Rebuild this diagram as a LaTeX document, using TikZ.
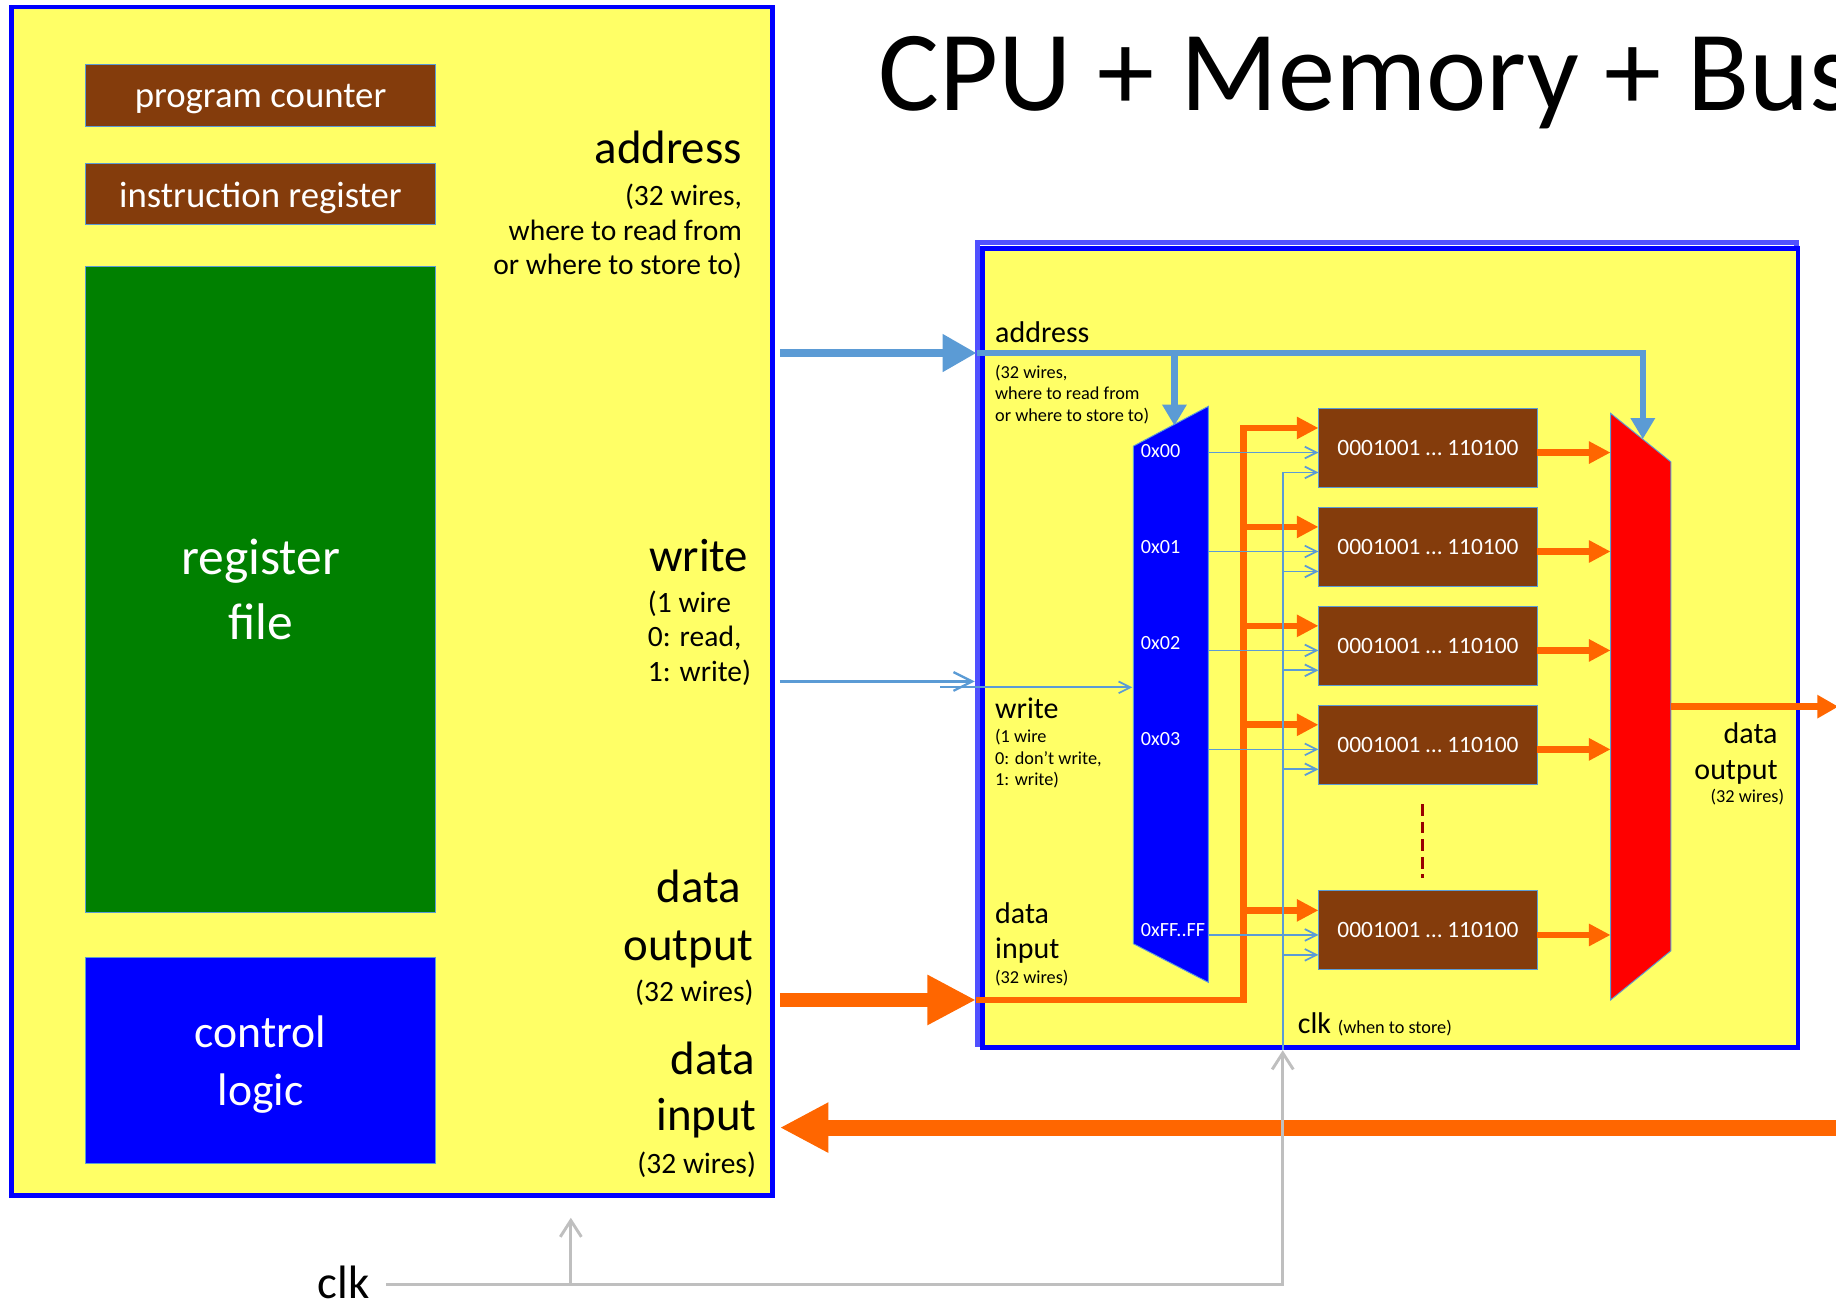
\documentclass[tikz,border=0pt]{standalone}
\usepackage{fontspec}
\setmainfont{Carlito}
\usepackage{tikz}
\usetikzlibrary{positioning}
\usetikzlibrary{arrows.meta}

\definecolor{boardyellow}{RGB}{255,255,102}
\definecolor{regbrown}{RGB}{132,60,12}
\definecolor{regfilegreen}{RGB}{0,128,0}
\definecolor{busorange}{RGB}{255,102,0}
\definecolor{wireblue}{RGB}{91,155,213}
\definecolor{clkgray}{RGB}{191,191,191}
\definecolor{dotred}{RGB}{153,0,0}
\definecolor{framelight}{RGB}{80,80,255}

\newcommand{\txtsize}[2]{\fontsize{#1}{#2}\selectfont}

\tikzset{
  regbox/.style={draw=wireblue, line width=0.4pt, inner sep=0pt, outer sep=0pt, text=white, align=center, minimum width=149.5pt},
  cellbox/.style={draw=wireblue, line width=0.4pt, fill=regbrown, inner sep=0pt, outer sep=0pt, text=white, minimum width=93.5pt, minimum height=33.75pt, font=\txtsize{10}{12}},
  bigport/.style={inner sep=0pt, font=\txtsize{20}{24}},
  smallport/.style={inner sep=0pt, font=\txtsize{12.6}{14.75}},
  memport/.style={inner sep=0pt, font=\txtsize{12.8}{15.4}},
  memsmall/.style={inner sep=0pt, font=\txtsize{7.8}{9.2}},
  declabel/.style={inner sep=0pt, text=white, font=\txtsize{8.6}{10}},
  addrarrow/.style={draw=wireblue, line width=3.75pt, -{Triangle[length=14.5pt,width=15.25pt]}},
  addrtip/.style={draw=wireblue, line width=2.75pt, -{Triangle[length=9pt,width=10pt]}},
  writearrow/.style={draw=wireblue, line width=1pt, -{Straight Barb[length=8pt,width=8pt]}},
  ctrlwire/.style={draw=wireblue, line width=0.75pt, -{Straight Barb[length=5pt,width=5pt]}},
  bigdata/.style={draw=busorange, -{Triangle[length=20.75pt,width=20pt]}},
  datatip/.style={draw=busorange, line width=2.85pt, -{Triangle[length=9.25pt,width=9pt]}},
  clkwire/.style={draw=clkgray, line width=1.25pt},
  clktip/.style={clkwire, -{Straight Barb[length=7pt,width=9pt]}}
}

\begin{document}
\begin{tikzpicture}[x=0.5pt, y=-0.5pt]
    \useasboundingbox (0,0) rectangle (1568,1111);

    % CPU
    \node (cpu) at (335,513.5) [draw=blue, line width=2pt, fill=boardyellow, inner sep=0pt, outer sep=0pt, minimum width=325pt, minimum height=507.5pt] {};
    \node (pc) at (222.5,81.5) [regbox, fill=regbrown, minimum height=26.5pt, text depth=0pt, font=\txtsize{15.7}{19}] {program counter};
    \node (ir) [regbox, fill=regbrown, minimum height=26pt, text depth=0pt, font=\txtsize{15.7}{19}, below=16pt of pc] {instruction register};
    \node (rf) [regbox, fill=regfilegreen, minimum height=275.5pt, font=\txtsize{22}{27.5}, below=18pt of ir] {register\\file};
    \node (cl) [regbox, fill=blue, minimum height=88pt, text depth=0pt, font=\txtsize{19.5}{25}, below=19.5pt of rf] {control\\logic};

    \node (caddr) at (634,140) [bigport, anchor=base east] {address};
    \node (caddrw) at (634,234.5) [smallport, anchor=base east, align=right] {(32 wires,\\where to read from\\or where to store to)};
    \node (cwrite) at (554,488) [bigport, anchor=base west] {write};
    \node (cwritew) at (553,582) [smallport, anchor=base west, align=left] {(1 wire\\0: read,\\1: write)};
    \node (cdout) at (633,771) [bigport, anchor=base east] {data};
    \node (cdout2) at (644,820.5) [bigport, anchor=base east] {output};
    \node (cdoutw) at (644,855) [smallport, anchor=base east] {(32 wires)};
    \node (cdin) at (645,918) [bigport, anchor=base east] {data};
    \node (cdin2) at (646.5,965.5) [bigport, anchor=base east] {input};
    \node (cdinw) at (646,1002) [smallport, anchor=base east] {(32 wires)};

    \node (title) at (750,94) [anchor=base west, inner sep=0pt, font=\txtsize{48.8}{58}] {CPU + Memory + Bus};

    % memory
    \path [draw=framelight, line width=2pt] (835,207) rectangle (1534,892);
    \node (mem) at (1187.25,553.25) [draw=blue, line width=2pt, fill=boardyellow, inner sep=0pt, outer sep=0pt, minimum width=348.25pt, minimum height=341.25pt] {};

    \coordinate (dectl) at (968,381);
    \coordinate (dectr) at (1032,347);
    \coordinate (decbr) at (1032,839);
    \coordinate (decbl) at (968,806);
    \path [fill=blue, draw=wireblue, line width=0.4pt] (dectl) -- (dectr) -- (decbr) -- (decbl) -- cycle;
    \coordinate (muxtl) at (1375.5,353);
    \coordinate (muxtr) at (1427,394.5);
    \coordinate (muxbr) at (1427,812);
    \coordinate (muxbl) at (1375.5,854);
    \path [fill=red, draw=wireblue, line width=0.4pt] (muxtl) -- (muxtr) -- (muxbr) -- (muxbl) -- cycle;

    \node (cell1) at (1219.5,382.5) [cellbox] {0001001 … 110100};
    \node (cell2) [cellbox, below=8.5pt of cell1] {0001001 … 110100};
    \node (cell3) [cellbox, below=8.5pt of cell2] {0001001 … 110100};
    \node (cell4) [cellbox, below=8.5pt of cell3] {0001001 … 110100};
    \node (cell5) at (1219.5,794.5) [cellbox] {0001001 … 110100};
    \path [draw=dotred, line width=1.5pt, dash pattern=on 5pt off 2.5pt] ([xshift=-2.25pt,yshift=-8.5pt]cell4.south) -- ([xshift=-2.25pt,yshift=5.5pt]cell5.north);

    \node (dec0) at (974,391) [declabel, anchor=base west] {0x00};
    \node (dec1) at (974,473) [declabel, anchor=base west] {0x01};
    \node (dec2) at (974,555) [declabel, anchor=base west] {0x02};
    \node (dec3) at (974,637) [declabel, anchor=base west] {0x03};
    \node (decf) at (974,800) [declabel, anchor=base west] {0xFF..FF};

    \node (maddr) at (849.5,292.6) [memport, anchor=base west] {address};
    \node (maddrw) at (849.5,360) [memsmall, anchor=base west, align=left] {(32 wires,\\where to read from\\or where to store to)};
    \node (mwrite) at (849.5,613.4) [memport, anchor=base west] {write};
    \node (mwritew) at (849.5,671) [memsmall, anchor=base west, align=left] {(1 wire\\0: don’t write,\\1: write)};
    \node (mdin) at (849.5,788.6) [memport, anchor=base west] {data};
    \node (mdin2) at (849.5,818.7) [memport, anchor=base west] {input};
    \node (mdinw) at (849.5,839.7) [memsmall, anchor=base west] {(32 wires)};
    \node (mdout) at (1518.5,634.8) [memport, anchor=base east] {data};
    \node (mdout2) at (1518.5,665.5) [memport, anchor=base east] {output};
    \node (mdoutw) at (1524,685.5) [memsmall, anchor=base east] {(32 wires)};
    \node (mclk) at (1108,882.5) [memport, anchor=base west] {clk \txtsize{7.8}{9.4}(when to store)};

    % bus between CPU and memory
    \coordinate (addrin) at (834,301.5);
    \coordinate (writein) at (832.5,582);
    \coordinate (datain) at (833.5,854);
    \coordinate (databack) at (1600,963);
    \path [draw, addrarrow, shorten <=3pt] (cpu.east |- addrin) -- (addrin);
    \path [draw, writearrow, shorten <=3pt] (cpu.east |- writein) -- (writein);
    \path [draw, bigdata, line width=5.75pt, shorten <=3pt] (cpu.east |- datain) -- (datain);
    \path [draw, bigdata, line width=6.75pt, shorten >=3pt] (databack) -- (cpu.east |- databack);

    % address into decoder and mux
    \coordinate (decaddr) at (1003,363.5);
    \coordinate (muxaddr) at (1403,375);
    \path [draw, addrtip] (addrin) -| (muxaddr);
    \path [draw, addrtip] (addrin -| decaddr) -- (decaddr);

    % write into decoder
    \coordinate (wrstart) at (803,587);
    \coordinate (decwrite) at (967,587);
    \path [draw, ctrlwire] (wrstart) -- (decwrite);

    % data input bus to the cells
    \coordinate (bustop) at (1062,365.5);
    \path [draw, datatip] (datain) -| (bustop) -- ([yshift=8.5pt]cell1.west);
    \path [draw, datatip] ([xshift=-32pt,yshift=8.5pt]cell2.west) -- ([yshift=8.5pt]cell2.west);
    \path [draw, datatip] ([xshift=-32pt,yshift=8.5pt]cell3.west) -- ([yshift=8.5pt]cell3.west);
    \path [draw, datatip] ([xshift=-32pt,yshift=8.5pt]cell4.west) -- ([yshift=8.5pt]cell4.west);
    \path [draw, datatip] ([xshift=-32pt,yshift=8.5pt]cell5.west) -- ([yshift=8.5pt]cell5.west);

    % decoder selects
    \path [draw, ctrlwire] ([xshift=-47pt,yshift=-2pt]cell1.west) -- ([yshift=-2pt]cell1.west);
    \path [draw, ctrlwire] ([xshift=-47pt,yshift=-2pt]cell2.west) -- ([yshift=-2pt]cell2.west);
    \path [draw, ctrlwire] ([xshift=-47pt,yshift=-2pt]cell3.west) -- ([yshift=-2pt]cell3.west);
    \path [draw, ctrlwire] ([xshift=-47pt,yshift=-2pt]cell4.west) -- ([yshift=-2pt]cell4.west);
    \path [draw, ctrlwire] ([xshift=-47pt,yshift=-2pt]cell5.west) -- ([yshift=-2pt]cell5.west);

    % clock
    \node (clk) at (271,1109) [bigport, anchor=base west] {clk};
    \coordinate (clkjoin) at (1095.5,1097);
    \coordinate (memclk) at (1095.5,897);
    \coordinate (cpuclk) at (487.5,1040);
    \path [draw, clktip, shorten <=7pt] (clk.east |- clkjoin) -- (clkjoin) -- (memclk);
    \path [draw, clktip] (cpuclk |- clkjoin) -- (cpuclk);
    \path [draw, ctrlwire] (memclk) |- ([yshift=-10.5pt]cell1.west);
    \path [draw, ctrlwire] ([xshift=-15pt,yshift=-10.5pt]cell2.west) -- ([yshift=-10.5pt]cell2.west);
    \path [draw, ctrlwire] ([xshift=-15pt,yshift=-10.5pt]cell3.west) -- ([yshift=-10.5pt]cell3.west);
    \path [draw, ctrlwire] ([xshift=-15pt,yshift=-10.5pt]cell4.west) -- ([yshift=-10.5pt]cell4.west);
    \path [draw, ctrlwire] ([xshift=-15pt,yshift=-10.5pt]cell5.west) -- ([yshift=-10.5pt]cell5.west);

    % cells into mux, mux out
    \path [draw, datatip] ([yshift=-2pt]cell1.east) -- ([xshift=31.25pt,yshift=-2pt]cell1.east);
    \path [draw, datatip] ([yshift=-2pt]cell2.east) -- ([xshift=31.25pt,yshift=-2pt]cell2.east);
    \path [draw, datatip] ([yshift=-2pt]cell3.east) -- ([xshift=31.25pt,yshift=-2pt]cell3.east);
    \path [draw, datatip] ([yshift=-2pt]cell4.east) -- ([xshift=31.25pt,yshift=-2pt]cell4.east);
    \path [draw, datatip] ([yshift=-2pt]cell5.east) -- ([xshift=31.25pt,yshift=-2pt]cell5.east);
    \coordinate (muxout) at (1427,603.5);
    \coordinate (memout) at (1570,603.5);
    \path [draw, datatip, -{Triangle[length=9pt,width=9.5pt]}] (muxout) -- (memout);
\end{tikzpicture}
\end{document}
